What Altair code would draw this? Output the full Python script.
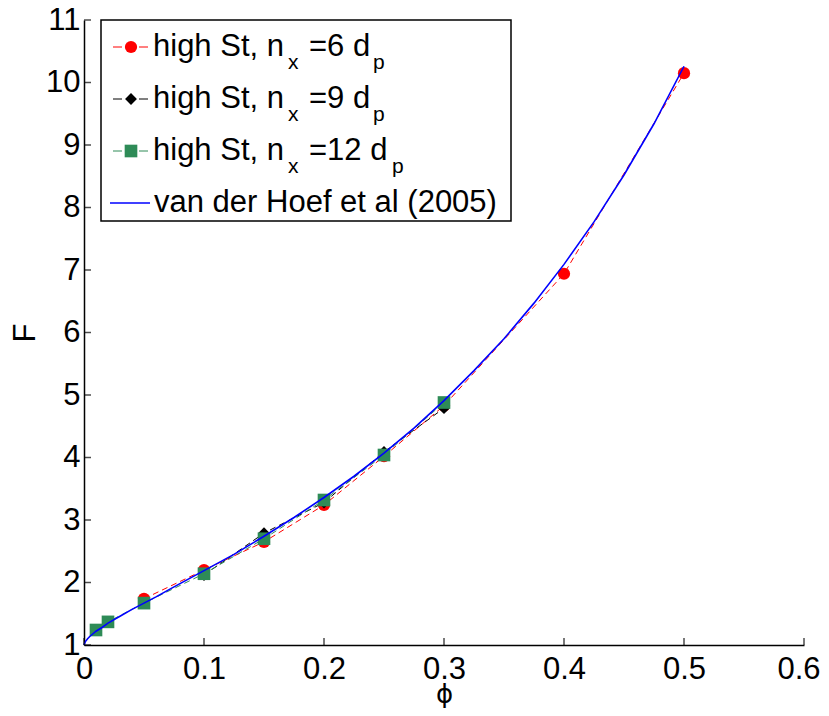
import altair as alt
import pandas as pd

# ---------------- data ----------------
phi_red = [0.05, 0.10, 0.15, 0.20, 0.25, 0.30, 0.40, 0.50]
F_red = [1.74, 2.20, 2.65, 3.24, 4.02, 4.83, 6.94, 10.15]

phi_black = [0.10, 0.15, 0.20, 0.25, 0.30]
F_black = [2.12, 2.79, 3.28, 4.09, 4.79]

phi_green = [0.01, 0.02, 0.05, 0.10, 0.15, 0.20, 0.25, 0.30]
F_green = [1.24, 1.37, 1.67, 2.14, 2.70, 3.32, 4.04, 4.88]

phi_hoef = [0, 0.001, 0.003, 0.005, 0.0075, 0.01, 0.015, 0.02, 0.03, 0.04,
            0.05, 0.06, 0.075, 0.1, 0.125, 0.15, 0.175, 0.2, 0.225, 0.25,
            0.275, 0.3, 0.325, 0.35, 0.375, 0.4, 0.425, 0.45, 0.475, 0.5]
F_hoef = [1.00, 1.05, 1.10, 1.14, 1.18, 1.22, 1.28, 1.35, 1.46, 1.57,
          1.67, 1.77, 1.93, 2.19, 2.45, 2.74, 3.04, 3.36, 3.70, 4.07,
          4.47, 4.91, 5.39, 5.90, 6.47, 7.09, 7.77, 8.52, 9.34, 10.26]

tick_x = [0, 0.1, 0.2, 0.3, 0.4, 0.5, 0.6]
tick_y = [1, 2, 3, 4, 5, 6, 7, 8, 9, 10, 11]

legend_labels = ["high St, n", "high St, n", "high St, n", "van der Hoef et al (2005)"]
legend_mid = ["=6 d", "=9 d", "=12 d"]

# ---------------- layout / style ----------------
W, H = 720, 625
FONT = "Liberation Sans, Arial, sans-serif"
FS = 31
RED, BLACK, GREEN, BLUE = "#ff0000", "#000000", "#2e8b57", "#0000ff"

xs = alt.Scale(domain=[0, 0.6], nice=False, zero=False)
ys = alt.Scale(domain=[1, 11], nice=False, zero=False)

last_x = "datum.value >= 0.59"
x_axis = alt.Axis(values=tick_x, format="~g", title="ϕ", grid=False,
                  labelFont=FONT, labelFontSize=FS, labelColor="black",
                  labelPadding=9, labelFlush=False, labelOverlap=False,
                  labelAlign={"condition": {"test": last_x, "value": "right"}, "value": "center"},
                  labelOffset={"condition": {"test": last_x, "value": 16}, "value": 0},
                  tickSize=0, domainColor="black", domainWidth=1.5,
                  titleFont="DejaVu Sans, Liberation Sans", titleFontSize=26,
                  titleFontWeight="normal", titleColor="black",
                  titleX=W / 2, titleY=57, titleBaseline="alphabetic",
                  titleAlign="center")
y_axis = alt.Axis(values=tick_y, format="d", title="F", grid=False,
                  labelFont=FONT, labelFontSize=FS, labelColor="black",
                  labelPadding=4, labelOverlap=False,
                  tickSize=0, domainColor="black", domainWidth=1.5,
                  titleFont=FONT, titleFontSize=FS, titleFontWeight="normal",
                  titleColor="black", titleX=-50, titleY=H / 2,
                  titleBaseline="alphabetic", titleAlign="center", titleAngle=270)

X = alt.X("phi:Q", scale=xs, axis=x_axis, title="ϕ")
Y = alt.Y("F:Q", scale=ys, axis=y_axis, title="F")

layers = []


def series(phis, Fs, color, shape, size):
    df = pd.DataFrame({"phi": phis, "F": Fs})
    base = alt.Chart(df)
    line = base.mark_line(color=color, strokeDash=[6, 4], strokeWidth=1).encode(x=X, y=Y)
    pts = base.mark_point(shape=shape, filled=True, size=size, color=color,
                          opacity=1).encode(x=X, y=Y)
    return [line, pts]


layers += series(phi_red, F_red, RED, "circle", 150)
layers += series(phi_black, F_black, BLACK, "diamond", 140)
layers += series(phi_green, F_green, GREEN, "square", 160)

hoef = alt.Chart(pd.DataFrame({"phi": phi_hoef, "F": F_hoef})).mark_line(
    color=BLUE, strokeWidth=1.6).encode(x=X, y=Y)
layers.append(hoef)

# inward ticks
ytick = alt.Chart(pd.DataFrame({"F": tick_y})).mark_tick(
    orient="horizontal", size=7, thickness=1.5, color="black").encode(
    y=Y, x=alt.value(3.5))
xtick = alt.Chart(pd.DataFrame({"phi": tick_x})).mark_tick(
    orient="vertical", size=7, thickness=1.5, color="black").encode(
    x=X, y=alt.value(H - 3.5))
layers += [ytick, xtick]

# ---------------- legend ----------------
one = pd.DataFrame({"a": [0]})
box = alt.Chart(one).mark_rect(fill="white", stroke="black", strokeWidth=1.5).encode(
    x=alt.value(17), x2=alt.value(427), y=alt.value(0), y2=alt.value(201))
layers.append(box)

sym_y = [27, 79, 131, 183]
base_y = [36, 88, 140, 192]
colors = [RED, BLACK, GREEN, BLUE]
shapes = ["circle", "diamond", "square"]
sizes = [150, 140, 160]
p_x = [289, 289, 308]

for i in range(4):
    if i < 3:
        layers.append(alt.Chart(one).mark_rule(color=colors[i], strokeWidth=1,
                                               strokeDash=[9, 4]).encode(
            x=alt.value(29), x2=alt.value(66), y=alt.value(sym_y[i])))
        layers.append(alt.Chart(one).mark_point(shape=shapes[i], filled=True,
                                                size=sizes[i], color=colors[i],
                                                opacity=1).encode(
            x=alt.value(47), y=alt.value(sym_y[i])))
        layers.append(alt.Chart(one).mark_text(align="left", baseline="alphabetic",
                                               font=FONT, fontSize=FS, color="black").encode(
            x=alt.value(69), y=alt.value(base_y[i]), text=alt.value(legend_labels[i])))
        layers.append(alt.Chart(one).mark_text(align="left", baseline="alphabetic",
                                               font=FONT, fontSize=21, color="black").encode(
            x=alt.value(204), y=alt.value(base_y[i] + 13), text=alt.value("x")))
        layers.append(alt.Chart(one).mark_text(align="left", baseline="alphabetic",
                                               font=FONT, fontSize=FS, color="black").encode(
            x=alt.value(225), y=alt.value(base_y[i]), text=alt.value(legend_mid[i])))
        layers.append(alt.Chart(one).mark_text(align="left", baseline="alphabetic",
                                               font=FONT, fontSize=21, color="black").encode(
            x=alt.value(p_x[i]), y=alt.value(base_y[i] + 13), text=alt.value("p")))
    else:
        layers.append(alt.Chart(one).mark_rule(color=BLUE, strokeWidth=1.6).encode(
            x=alt.value(26), x2=alt.value(66), y=alt.value(sym_y[i])))
        layers.append(alt.Chart(one).mark_text(align="left", baseline="alphabetic",
                                               font=FONT, fontSize=FS, color="black").encode(
            x=alt.value(70), y=alt.value(base_y[i]), text=alt.value(legend_labels[i])))

chart = alt.layer(*layers).properties(
    width=W, height=H,
    autosize=alt.AutoSizeParams(type="none"),
    padding={"left": 76, "top": 12, "right": 17, "bottom": 63},
).configure_view(strokeWidth=0)

chart.save("out.html", embed_options={"renderer": "svg", "actions": False})
